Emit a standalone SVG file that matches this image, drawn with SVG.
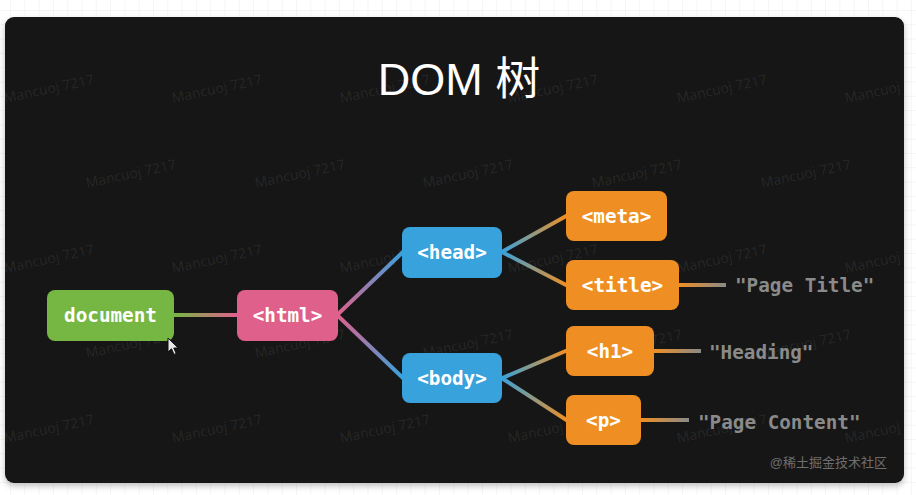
<svg xmlns="http://www.w3.org/2000/svg" width="916" height="495" viewBox="0 0 916 495">
<style>
.node rect{stroke:none}
.lbl{font-family:"DejaVu Sans Mono","Liberation Mono",monospace;font-weight:bold;font-size:19.3px;fill:#ffffff;text-anchor:middle;dominant-baseline:central}
.val{font-family:"DejaVu Sans Mono","Liberation Mono",monospace;font-weight:bold;font-size:19.3px;fill:#8a8a8a;dominant-baseline:central}
.wm{font-family:"Open Sans","Liberation Sans",sans-serif;font-size:14px;fill:#ffffff;fill-opacity:0.085}
.conn line{stroke-width:4;stroke-linecap:butt}
</style>
<defs>
<pattern id="grid" width="14.3" height="14.3" patternUnits="userSpaceOnUse" x="10" y="10">
<path d="M0 0H14.3M0 0V14.3" stroke="#ececec" stroke-width="1" fill="none"/>
</pattern>
<filter id="sh" x="-5%" y="-5%" width="110%" height="115%">
<feDropShadow dx="0" dy="3" stdDeviation="3" flood-color="#000" flood-opacity="0.25"/>
</filter>
<linearGradient id="g1" gradientUnits="userSpaceOnUse" x1="174" y1="315" x2="237" y2="315"><stop offset="0" stop-color="#76b743"/><stop offset="1" stop-color="#e0608c"/></linearGradient>
<linearGradient id="g2" gradientUnits="userSpaceOnUse" x1="338" y1="315" x2="402" y2="252"><stop offset="0" stop-color="#e0608c"/><stop offset="1" stop-color="#38a2dc"/></linearGradient>
<linearGradient id="g3" gradientUnits="userSpaceOnUse" x1="338" y1="315" x2="402" y2="378"><stop offset="0" stop-color="#e0608c"/><stop offset="1" stop-color="#38a2dc"/></linearGradient>
<linearGradient id="g4" gradientUnits="userSpaceOnUse" x1="502" y1="252" x2="566" y2="216"><stop offset="0" stop-color="#38a2dc"/><stop offset="1" stop-color="#ef8f23"/></linearGradient>
<linearGradient id="g5" gradientUnits="userSpaceOnUse" x1="502" y1="252" x2="566" y2="285"><stop offset="0" stop-color="#38a2dc"/><stop offset="1" stop-color="#ef8f23"/></linearGradient>
<linearGradient id="g6" gradientUnits="userSpaceOnUse" x1="502" y1="378" x2="566" y2="351"><stop offset="0" stop-color="#38a2dc"/><stop offset="1" stop-color="#ef8f23"/></linearGradient>
<linearGradient id="g7" gradientUnits="userSpaceOnUse" x1="502" y1="378" x2="566" y2="420"><stop offset="0" stop-color="#38a2dc"/><stop offset="1" stop-color="#ef8f23"/></linearGradient>
<linearGradient id="g8" gradientUnits="userSpaceOnUse" x1="679" y1="285" x2="726" y2="285"><stop offset="0" stop-color="#ef8f23"/><stop offset="1" stop-color="#8a8a8a"/></linearGradient>
<linearGradient id="g9" gradientUnits="userSpaceOnUse" x1="654" y1="351" x2="701" y2="351"><stop offset="0" stop-color="#ef8f23"/><stop offset="1" stop-color="#8a8a8a"/></linearGradient>
<linearGradient id="g10" gradientUnits="userSpaceOnUse" x1="641" y1="420" x2="689" y2="420"><stop offset="0" stop-color="#ef8f23"/><stop offset="1" stop-color="#8a8a8a"/></linearGradient>
</defs>

<rect x="0" y="0" width="916" height="495" fill="#ffffff"/>
<rect x="0" y="0" width="916" height="495" fill="url(#grid)"/>
<rect x="5" y="17" width="899" height="466" rx="9" fill="#121212" filter="url(#sh)"/>

<g id="watermarks">
<text class="wm" x="5" y="103" transform="rotate(-12 5 103)">Mancuoj 7217</text>
<text class="wm" x="173" y="103" transform="rotate(-12 173 103)">Mancuoj 7217</text>
<text class="wm" x="341" y="103" transform="rotate(-12 341 103)">Mancuoj 7217</text>
<text class="wm" x="509" y="103" transform="rotate(-12 509 103)">Mancuoj 7217</text>
<text class="wm" x="678" y="103" transform="rotate(-12 678 103)">Mancuoj 7217</text>
<text class="wm" x="846" y="103" transform="rotate(-12 846 103)">Mancuoj</text>
<text class="wm" x="87" y="188" transform="rotate(-12 87 188)">Mancuoj 7217</text>
<text class="wm" x="256" y="188" transform="rotate(-12 256 188)">Mancuoj 7217</text>
<text class="wm" x="424" y="188" transform="rotate(-12 424 188)">Mancuoj 7217</text>
<text class="wm" x="593" y="188" transform="rotate(-12 593 188)">Mancuoj 7217</text>
<text class="wm" x="762" y="188" transform="rotate(-12 762 188)">Mancuoj 7217</text>
<text class="wm" x="5" y="273" transform="rotate(-12 5 273)">Mancuoj 7217</text>
<text class="wm" x="173" y="273" transform="rotate(-12 173 273)">Mancuoj 7217</text>
<text class="wm" x="341" y="273" transform="rotate(-12 341 273)">Mancuoj 7217</text>
<text class="wm" x="509" y="273" transform="rotate(-12 509 273)">Mancuoj 7217</text>
<text class="wm" x="678" y="273" transform="rotate(-12 678 273)">Mancuoj 7217</text>
<text class="wm" x="846" y="273" transform="rotate(-12 846 273)">Mancuoj</text>
<text class="wm" x="87" y="358" transform="rotate(-12 87 358)">Mancuoj 7217</text>
<text class="wm" x="256" y="358" transform="rotate(-12 256 358)">Mancuoj 7217</text>
<text class="wm" x="424" y="358" transform="rotate(-12 424 358)">Mancuoj 7217</text>
<text class="wm" x="593" y="358" transform="rotate(-12 593 358)">Mancuoj 7217</text>
<text class="wm" x="762" y="358" transform="rotate(-12 762 358)">Mancuoj 7217</text>
<text class="wm" x="5" y="443" transform="rotate(-12 5 443)">Mancuoj 7217</text>
<text class="wm" x="173" y="443" transform="rotate(-12 173 443)">Mancuoj 7217</text>
<text class="wm" x="341" y="443" transform="rotate(-12 341 443)">Mancuoj 7217</text>
<text class="wm" x="509" y="443" transform="rotate(-12 509 443)">Mancuoj 7217</text>
<text class="wm" x="678" y="443" transform="rotate(-12 678 443)">Mancuoj 7217</text>
<text class="wm" x="846" y="443" transform="rotate(-12 846 443)">Mancuoj</text>
</g>

<text x="459" y="95" font-family="'Liberation Sans','Noto Sans CJK SC',sans-serif" font-size="45" fill="#ffffff" text-anchor="middle">DOM 树</text>

<g id="connectors" class="conn">
<line x1="172" y1="315" x2="239" y2="315" stroke="url(#g1)"/>
<line x1="336" y1="316" x2="404" y2="251" stroke="url(#g2)"/>
<line x1="336" y1="314" x2="404" y2="379" stroke="url(#g3)"/>
<line x1="500" y1="253" x2="568" y2="215" stroke="url(#g4)"/>
<line x1="500" y1="251" x2="568" y2="286" stroke="url(#g5)"/>
<line x1="500" y1="379" x2="568" y2="350" stroke="url(#g6)"/>
<line x1="500" y1="377" x2="568" y2="421" stroke="url(#g7)"/>
<line x1="677" y1="285" x2="726" y2="285" stroke="url(#g8)"/>
<line x1="652" y1="351" x2="701" y2="351" stroke="url(#g9)"/>
<line x1="639" y1="420" x2="689" y2="420" stroke="url(#g10)"/>
</g>

<g id="node-document" class="node"><rect x="47" y="290" width="127" height="51" rx="8" fill="#76b743"/><text class="lbl" x="110.5" y="315.5">document</text></g>
<g id="node-html" class="node"><rect x="237" y="290" width="101" height="51" rx="8" fill="#e0608c"/><text class="lbl" x="287.5" y="315.5">&lt;html&gt;</text></g>
<g id="node-head" class="node"><rect x="402" y="227" width="100" height="51" rx="8" fill="#38a2dc"/><text class="lbl" x="452" y="252.5">&lt;head&gt;</text></g>
<g id="node-body" class="node"><rect x="402" y="353" width="100" height="50" rx="8" fill="#38a2dc"/><text class="lbl" x="452" y="378">&lt;body&gt;</text></g>
<g id="node-meta" class="node"><rect x="566" y="191" width="101" height="50" rx="8" fill="#ef8f23"/><text class="lbl" x="616.5" y="216">&lt;meta&gt;</text></g>
<g id="node-title" class="node"><rect x="566" y="260" width="113" height="50" rx="8" fill="#ef8f23"/><text class="lbl" x="622.5" y="285">&lt;title&gt;</text></g>
<g id="node-h1" class="node"><rect x="566" y="326" width="88" height="50" rx="8" fill="#ef8f23"/><text class="lbl" x="610" y="351">&lt;h1&gt;</text></g>
<g id="node-p" class="node"><rect x="566" y="395" width="75" height="50" rx="8" fill="#ef8f23"/><text class="lbl" x="603.5" y="420">&lt;p&gt;</text></g>

<g id="text-page-title"><text class="val" x="735" y="285">"Page Title"</text></g>
<g id="text-heading"><text class="val" x="709" y="352">"Heading"</text></g>
<g id="text-page-content"><text class="val" x="698" y="422">"Page Content"</text></g>

<polygon points="168,338 168,352 171.5,348.8 174,354.5 176.2,353.5 173.8,348 178.2,348" fill="#e8e8e8" stroke="#111" stroke-width="1"/>

<text x="887" y="467" font-family="'Liberation Sans','Noto Sans CJK SC',sans-serif" font-size="13" fill="#6e6e6e" text-anchor="end">@稀土掘金技术社区</text>
</svg>
